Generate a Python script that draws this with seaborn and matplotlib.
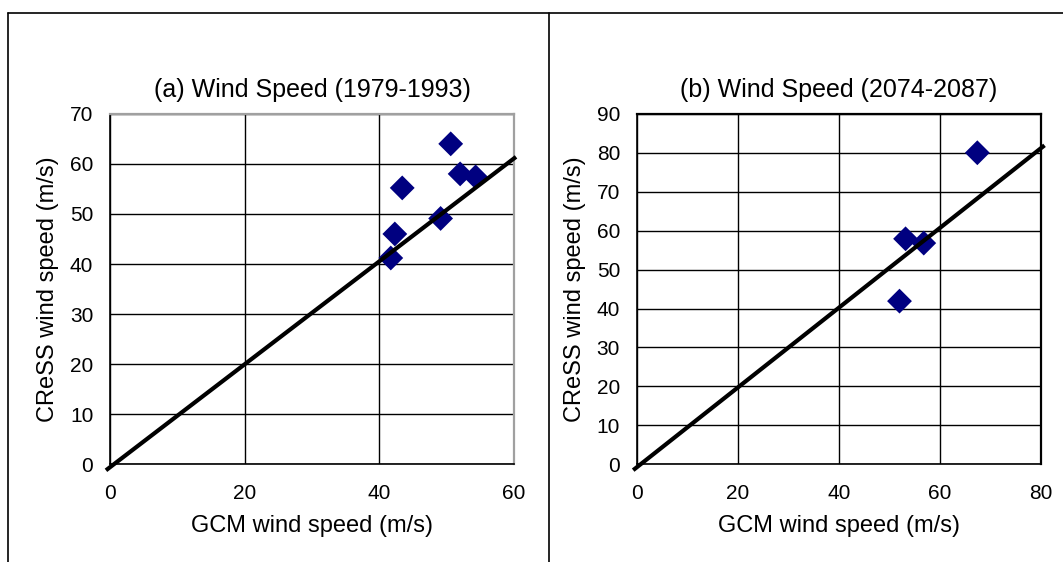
import matplotlib
matplotlib.use("Agg")
import matplotlib.pyplot as plt
import seaborn as sns
import pandas as pd
from matplotlib.lines import Line2D

# ---- data ----
gcm_a = [41.7, 42.3, 43.4, 49.1, 50.6, 52.0, 54.3]
cress_a = [41.2, 46.0, 55.2, 49.1, 64.0, 58.0, 57.4]
line_a_x = [-0.6, 60.3]
line_a_y = [-1.2, 61.4]

gcm_b = [52.0, 53.2, 56.8, 67.4]
cress_b = [41.9, 57.9, 56.8, 80.0]
line_b_x = [-0.7, 80.7]
line_b_y = [-1.5, 81.9]

title_a = "(a) Wind Speed (1979-1993)"
title_b = "(b) Wind Speed (2074-2087)"
xlabel = "GCM wind speed (m/s)"
ylabel = "CReSS wind speed (m/s)"
xticks_a = [0, 20, 40, 60]
yticks_a = [0, 10, 20, 30, 40, 50, 60, 70]
xticks_b = [0, 20, 40, 60, 80]
yticks_b = [0, 10, 20, 30, 40, 50, 60, 70, 80, 90]

sns.set_style("white")
plt.rcParams['font.family'] = ['Liberation Sans', 'DejaVu Sans']
plt.rcParams['text.color'] = 'black'
plt.rcParams['axes.labelcolor'] = 'black'
plt.rcParams['xtick.color'] = 'black'
plt.rcParams['ytick.color'] = 'black'

W, H = 1063, 562
fig = plt.figure(figsize=(W / 100, H / 100), dpi=100)

# chart-area borders (Excel style)
fig.add_artist(Line2D([8 / W, 1.0], [1 - 12.5 / H, 1 - 12.5 / H], color="black", lw=1.2))
fig.add_artist(Line2D([8 / W, 8 / W], [0, 1 - 12.5 / H], color="black", lw=1.2))
fig.add_artist(Line2D([549 / W, 549 / W], [0, 1 - 12.5 / H], color="black", lw=1.2))

bottom = (H - 464.3) / H
height = 350.5 / H
ax1 = fig.add_axes([110 / W, bottom, 404 / W, height])
ax2 = fig.add_axes([636.7 / W, bottom, 404.3 / W, height])

def style(ax, xticks, yticks, xmax, ymax, edgecolor):
    ax.set_xlim(0, xmax)
    ax.set_ylim(0, ymax)
    ax.set_xticks(xticks)
    ax.set_yticks(yticks)
    ax.grid(True, color="black", lw=1.0)
    ax.set_axisbelow(True)
    for s in ["left", "bottom"]:
        ax.spines[s].set_color("black")
        ax.spines[s].set_linewidth(1.2)
    for s in ["top", "right"]:
        ax.spines[s].set_color(edgecolor)
        ax.spines[s].set_linewidth(1.6)
    ax.tick_params(axis="both", labelsize=15, direction="out", length=3,
                   width=1, color="black", pad=9, labelcolor="black")
    ax.tick_params(axis="x", length=0, pad=14)
    ax.set_xlabel(xlabel, fontsize=17, labelpad=9, color="black")
    ax.set_ylabel(ylabel, fontsize=17, labelpad=8, color="black")

df_a = pd.DataFrame({"gcm": gcm_a, "cress": cress_a})
df_b = pd.DataFrame({"gcm": gcm_b, "cress": cress_b})

sns.scatterplot(data=df_a, x="gcm", y="cress", ax=ax1, marker="D", s=160,
                color="#000080", edgecolor="none", clip_on=False, zorder=3)
ax1.plot(line_a_x, line_a_y, color="black", lw=3, clip_on=False, zorder=4,
         solid_capstyle="butt")
style(ax1, xticks_a, yticks_a, 60, 70, "#a0a0a0")
ax1.set_title(title_a, fontsize=18, pad=12, color="black")

sns.scatterplot(data=df_b, x="gcm", y="cress", ax=ax2, marker="D", s=160,
                color="#000080", edgecolor="none", clip_on=False, zorder=3)
ax2.plot(line_b_x, line_b_y, color="black", lw=3, clip_on=False, zorder=4,
         solid_capstyle="butt")
style(ax2, xticks_b, yticks_b, 80, 90, "black")
ax2.set_title(title_b, fontsize=18, pad=12, color="black")

fig.savefig("out.png", dpi=100)
